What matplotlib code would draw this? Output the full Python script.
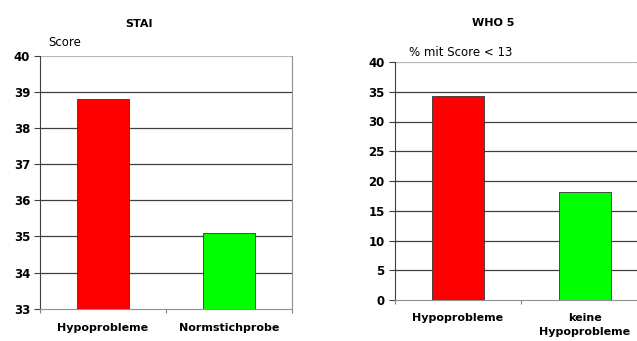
import matplotlib.pyplot as plt

stai_labels = ['Hypoprobleme', 'Normstichprobe']
stai_values = [38.8, 35.1]
stai_ticks = [33, 34, 35, 36, 37, 38, 39, 40]

who_labels = ['Hypoprobleme', 'keine\nHypoprobleme']
who_values = [34.3, 18.1]
who_ticks = [0, 5, 10, 15, 20, 25, 30, 35, 40]

bar_colors = ['#ff0000', '#00ff00']

plt.rcParams['font.family'] = ['DejaVu Sans']

W, H = 637, 341
fig = plt.figure(figsize=(W / 100, H / 100), dpi=100)


def px_axes(x0, y0, x1, y1):
    # pixel box -> figure fraction
    return fig.add_axes([x0 / W, 1 - y1 / H, (x1 - x0) / W, (y1 - y0) / H])


def style_axes(ax, labels, values, ticks):
    x = range(len(values))
    ax.bar(x, values, width=0.41, color=bar_colors, edgecolor='#333333',
           linewidth=0.6, zorder=3, bottom=ticks[0])
    ax.set_xlim(-0.5, len(values) - 0.5)
    ax.set_ylim(ticks[0], ticks[-1])
    ax.set_yticks(ticks)
    ax.set_yticklabels([str(t) for t in ticks], fontsize=8.5, fontweight='bold')
    for t in ticks[1:-1]:
        ax.axhline(t, color='#404040', lw=0.9, zorder=1)
    ax.axhline(ticks[-1], color='#909090', lw=0.9, ls=(0, (1, 0.6)), zorder=1)
    ax.set_xticks([-0.5, 0.5, 1.5])
    ax.set_xticklabels(['', '', ''])
    ax.tick_params(axis='x', length=3, color='#808080', width=0.8)
    ax.tick_params(axis='y', length=4, width=0.8, color='#404040', pad=3)
    for i, lab in enumerate(labels):
        ax.text(i, -0.055, lab, transform=ax.get_xaxis_transform(),
                ha='center', va='top', fontsize=8, fontweight='bold',
                linespacing=1.45)
    ax.spines['top'].set_visible(False)
    ax.spines['left'].set_color('#404040')
    ax.spines['left'].set_linewidth(0.8)
    ax.spines['bottom'].set_color('#909090')
    ax.spines['right'].set_color('#909090')


# STAI (mean score)
ax1 = px_axes(40, 55.7, 292, 308.7)
style_axes(ax1, stai_labels, [v - stai_ticks[0] for v in stai_values], stai_ticks)
fig.text(139 / W, 1 - 24 / H, 'STAI', ha='center', va='center', fontsize=8,
         fontweight='bold')
fig.text(48 / W, 1 - 43 / H, 'Score', ha='left', va='center', fontsize=8.5)

# WHO 5 (share with score < 13), axes runs past the right edge
ax2 = px_axes(394.5, 62, 648, 300)
style_axes(ax2, who_labels, who_values, who_ticks)
fig.text(493 / W, 1 - 23 / H, 'WHO 5', ha='center', va='center', fontsize=8,
         fontweight='bold')
fig.text(409 / W, 1 - 52 / H, '% mit Score < 13', ha='left', va='center', fontsize=8.5)

fig.savefig('out.png', dpi=100)
